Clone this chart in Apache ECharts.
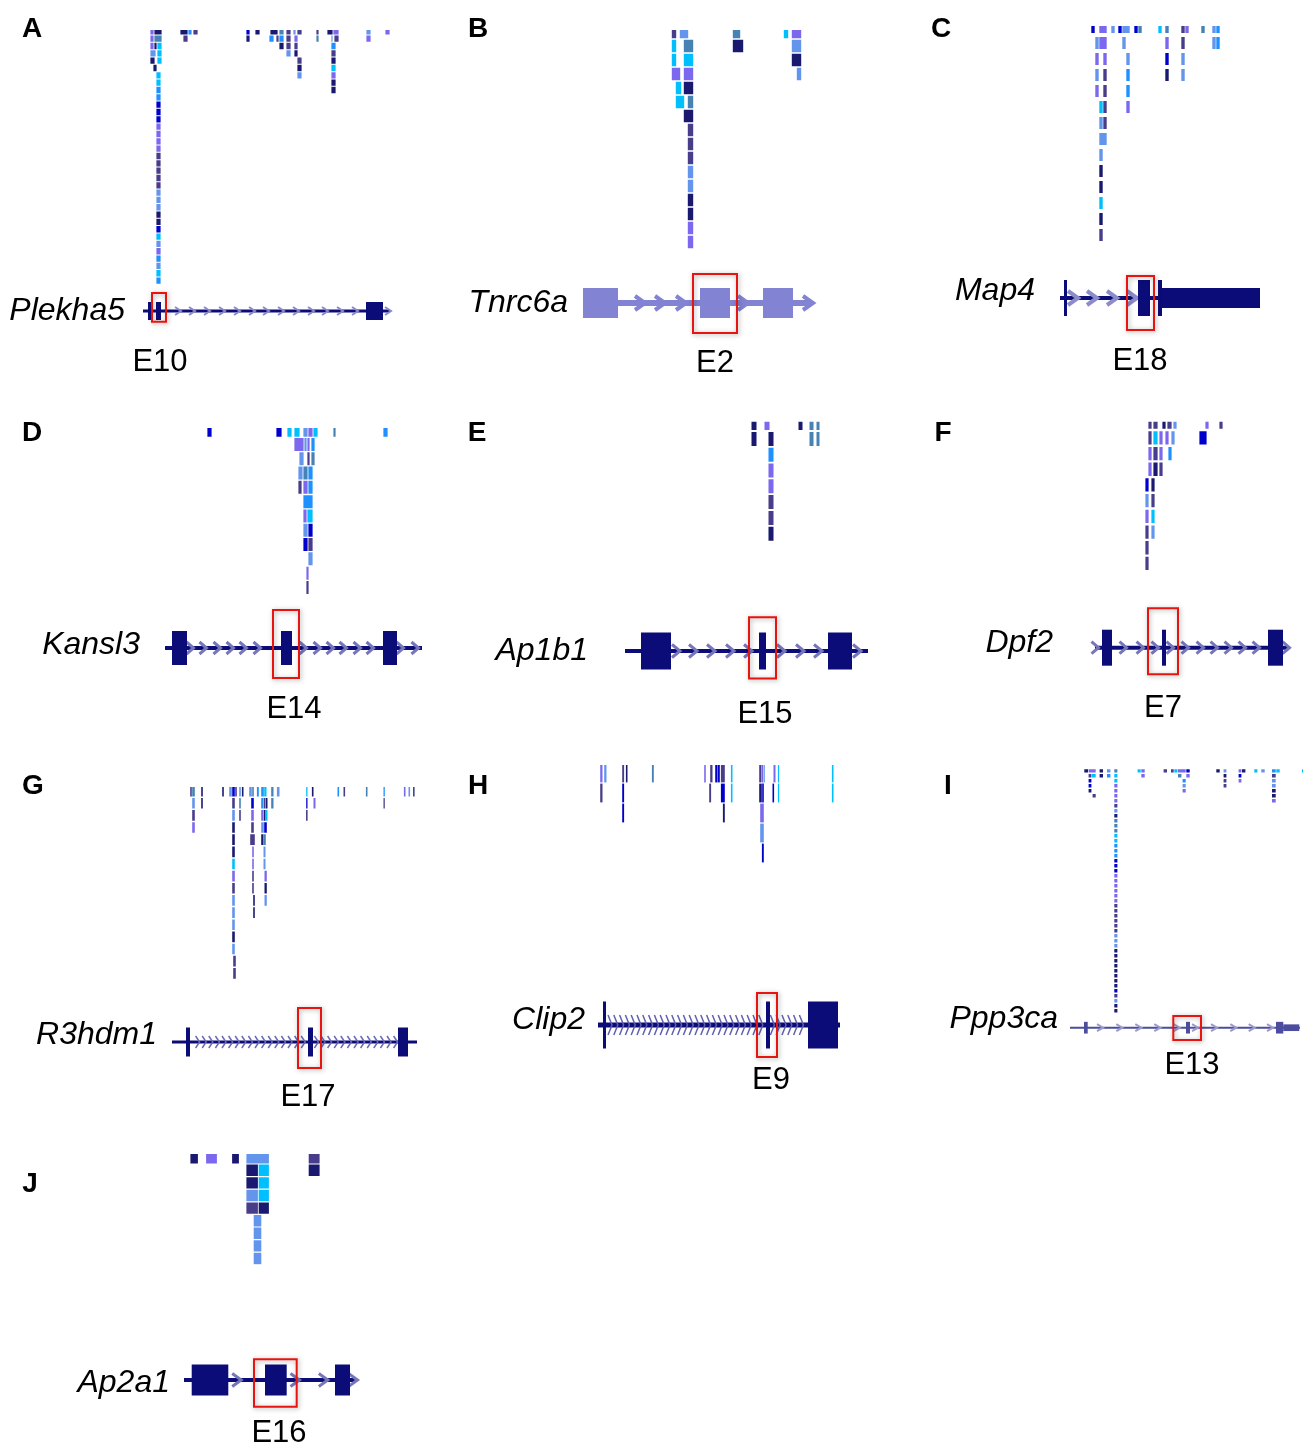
<!DOCTYPE html>
<html><head><meta charset="utf-8">
<script src="https://cdn.jsdelivr.net/npm/echarts@6/dist/echarts.min.js"></script>
<style>html,body{margin:0;padding:0;background:#fff}#c{width:1303px;height:1450px}</style>
</head><body><div id="c"></div>
<script>
// ---------------- DATA ----------------
// read colour codes
const PALETTE = ['#191970','#483D8B','#7B68EE','#6495ED','#00BFFF','#1E90FF','#4682B4','#0000CD'];
const CODES = 'NDMCSGTB';
// stacks of reads: [start, end, firstRow, colour codes of consecutive rows]
const readsA = [
 [10,14,0,'MMM'],[14,22,0,'N'],[14,22,1,'T'],[14,17,2,'N'],[17,22,2,'SSS'],[10,16,3,'C'],[10,15,4,'N'],[13,17,5,'N'],
 [16,21,6,'SSGGBBBMMMMDDDDDCCCNNBSCMGCSG'],
 [40,48,0,'N'],[48,52,0,'G'],[53,58,0,'D'],[43,48,1,'D'],
 [106,110,0,'BN'],[115,120,0,'N'],[130,138,0,'N'],[129,134,1,'G'],[136,139,1,'D'],
 [139,144,0,'TGN'],[146,151,0,'DDDC'],[153,156,0,'C'],[157,162,0,'D'],[154,158,1,'MDN'],[157,162,4,'DNC'],
 [176,179,0,'DT'],[187,193,0,'N'],[193,199,0,'M'],[191,193,1,'C'],[194,199,1,'D'],[191,196,2,'GDNSMNN'],
 [226,231,0,'CM'],[245,250,0,'M']
];
const readsB = [
 [101,107,0,'DSS'],[101,111,3,'M'],[109,119,0,'C'],[113,124,1,'TSMN'],[105,112,4,'S'],[105,115,5,'S'],[117,124,5,'T'],
 [113,124,6,'N'],[117,124,7,'DDDCCNNMM'],
 [162,171,0,'T'],[162,174,1,'N'],[213,219,0,'S'],[221,232,0,'MCN'],[226,232,3,'C']
];
const readsC = [
 [41,45,0,'B'],[49,57,0,'MM'],[61,65,0,'C'],[68,72,0,'B'],[72,80,0,'C'],[84,88,0,'B'],[88,92,0,'T'],[108,112,0,'S'],
 [115,119,0,'TMBN'],[131,135,0,'DDCC'],[135,139,0,'M'],[151,155,0,'T'],[162,166,0,'CC'],[166,170,0,'GG'],
 [45,49,1,'CMCM'],[53,57,2,'MDDDD'],[72,76,1,'C'],[76,80,2,'CGGM'],[49,53,5,'SC'],[49,57,7,'C'],[49,53,8,'CNNSND']
];
const readsD = [
 [47,52,0,'B'],[116,122,0,'B'],[127,132,0,'S'],[134,140,0,'S'],[143,148,0,'C'],[148,153,0,'M'],[153,158,0,'S'],
 [173,176,0,'T'],[223,228,0,'G'],
 [134,144,1,'M'],[144,147,1,'C'],[147,150,1,'M'],[151,155,1,'G'],
 [139,144,2,'C'],[147,150,2,'D'],[151,155,2,'T'],
 [138,143,3,'C'],[143,148,3,'T'],[148,153,3,'G'],
 [138,142,4,'D'],[143,148,4,'M'],[148,153,4,'G'],
 [143,153,5,'G'],[143,147,6,'M'],[147,153,6,'S'],[143,148,7,'CB'],[148,153,7,'BD'],
 [148,153,9,'C'],[146,149,10,'MD']
];
const readsE = [
 [131,137,0,'NN'],[144,150,0,'M'],[148,154,1,'NGMMDDN'],[178,183,0,'N'],[189,194,0,'TT'],[196,200,0,'TT']
];
const readsF = [
 [58,62,0,'DDMM'],[55,59,4,'BCMDDD'],[63,68,0,'DSDN'],[61,65,4,'NDSC'],
 [72,76,0,'N'],[69,73,1,'MMD'],[77,82,0,'D'],[75,79,1,'M'],[78,82,2,'G'],[83,87,0,'C'],[81,85,1,'C'],
 [115,119,0,'M'],[109,117,1,'B'],[129,133,0,'D']
];
const readsG = [
 [25,27,0,'D'],[27,30,0,'TCDM'],[36,38,0,'NN'],[57,59,0,'N'],[64,67,0,'C'],[67,70,0,'B'],[70,72,0,'D'],
 [67,70,1,'DCNNNSMDCCCNC'],[68,71,14,'DD'],
 [74,76,0,'CTD'],[76.7,78.7,0,'N'],
 [84,87,0,'C'],[87,89,0,'T'],[86,89,1,'BMD'],[85,90,4,'D'],[87,89,5,'MMDD'],[88,90,9,'NN'],
 [91.7,94,0,'G'],[96,99,0,'G'],[99,101.7,0,'S'],
 [96,98.7,1,'GM'],[98.7,100.7,1,'DN'],[100.7,102.7,1,'NS'],
 [96,99,3,'C'],[99,102,3,'B'],[96,98.7,4,'N'],[98.7,101,4,'T'],[98.3,100.7,5,'CC'],[99.3,102,7,'MNC'],
 [106,108.7,0,'TT'],[111.7,114.7,0,'C'],
 [141,142.7,0,'SBN'],[146.7,148.7,0,'N'],[148.3,150.7,1,'M'],
 [172.3,174.3,0,'G'],[178.3,180.3,0,'D'],[200.7,202.7,0,'T'],[218.3,220,0,'GD'],
 [238.7,240.7,0,'M'],[243.3,245.3,0,'C'],[248,249.7,0,'N']
];
const readsH = [
 [10,12.7,0,'MD'],[14,16.7,0,'C'],[32,34.3,0,'DBB'],[35.7,37.7,0,'N'],[61.7,64,0,'T'],
 [114,116,0,'M'],[120,122.7,0,'D'],[119,121.3,1,'D'],[125,127.3,0,'B'],[127.3,130,0,'B'],
 [130.7,135,0,'DB'],[132.7,135,2,'N'],[140.7,142.7,0,'SS'],
 [169,171.7,0,'D'],[171.7,173.3,0,'M'],[173.3,175,0,'C'],[169,172,1,'N'],[172,174,1,'B'],
 [170,174,2,'MC'],[171.7,174,4,'B'],
 [183.3,185.7,0,'M'],[182.3,184.3,1,'B'],[187.7,189.3,0,'SS'],[241.7,243.7,0,'SS']
];
const readsI = [
 [44,47.7,0,'TSSMMMMDCNTTTSSGGGBBBMMMMMMDDDDDDCCCNNNNNNNNBDCNN'],
 [14,18.3,0,'N'],[18.3,26,0,'M'],[18.3,21.7,1,'DBBN'],[21.7,26,1,'S'],[22.3,26,5,'D'],
 [29.3,33.3,0,'NN'],[36.7,40.7,0,'CG'],[67.3,71,0,'S'],[71,75,0,'MM'],[93.3,97.3,0,'D'],
 [100.7,104,0,'D'],[104,107.3,0,'S'],[107.3,116,0,'M'],[116,120,0,'BM'],[107.7,111.7,1,'T'],[112.3,116,2,'GCM'],
 [146,150,0,'N'],[153.3,156.7,0,'CNDD'],[168.3,171.7,0,'MBM'],[171.7,175.7,0,'N'],[184,187.7,0,'S'],
 [191,195,0,'C'],[201.7,206,0,'GDCCNNM'],[206,210,0,'S'],[231.7,233,0,'S']
];
const readsJ = [
 [10,18.3,0,'N'],[25.7,37.3,0,'M'],[51.7,59.3,0,'N'],[66,89.3,0,'C'],
 [66,78.3,1,'NNC'],[78.3,89.3,1,'SSS'],[66,78.3,4,'D'],[78.3,89.3,4,'N'],[73.3,81.7,5,'CCCC'],[128.3,140,0,'DN']
];

// gene models: intron [start,end]; exons [start,end,relative height]; highlighted exon box [start,end,top,bottom]
const intronA = [3,250],  exonsA = [[8,12,1],[16,21,1],[226,243,1]],  boxA = [12,26,2,-1.2];
const intronB = [13,242], exonsB = [[13,48,1],[130,160,1],[193,223,1]], boxB = [123,167,1.93,-2];
const intronC = [10,112], exonsC = [[14,17,1],[88,100,1],[108,112,1],[112,210,0.56]], boxC = [77,104,1.22,-1.78];
const intronD = [5,262],  exonsD = [[12,27,1],[121,132,1],[223,237,1]], boxD = [113,139,2.24,-1.76];
const intronE = [5,248],  exonsE = [[21,51,1],[139,146,1],[208,232,1]], boxE = [129,156,1.82,-1.48];
const intronF = [5,198],  exonsF = [[12,22,1],[72,76,1],[178,193,1]],  boxF = [58,88,2.19,-1.48];
const intronG = [7,252],  exonsG = [[21,25,1],[143,148,1],[233,243,1]], boxG = [133,156,2.34,-1.79];
const intronH = [8,250],  exonsH = [[13,16,1],[176,180,1],[218,248,1]], boxH = [167,187,1.36,-1.36];
const intronI = [0,230],  exonsI = [[14,17.7,1],[116,120,1],[206,213.3,1],[213.3,229.3,0.57]], boxI = [103.3,131,2,-2.1];
const intronJ = [4,177],  exonsJ = [[11.7,48.3,1],[85,106.7,1],[155,170,1]], boxJ = [74,116.7,1.34,-1.72];
// strand arrows along introns
const chevA = [38,52,67,82,97,112,126,141,156,171,185,200,215,248];
const chevB = [70,90,111,173,238];
const chevC = [23,42,62,82];
const chevD = [30,43,57,70,83,97,143,157,170,183,197,210,240,255];
const chevE = [56,73,91,110,128,161,180,198,237];
const chevF = [5,33,50,65,80,95,110,124,138,152,166,196];
const chevI = [30,49.3,68.3,87.3,106.7,125,144,163.3,181.7,200];
const chevJ = [56.7,115,143.3,173];

const panelIds = ['A','B','C','D','E','F','G','H','I','J'];
const geneNames = ['Plekha5','Tnrc6a','Map4','Kansl3','Ap1b1','Dpf2','R3hdm1','Clip2','Ppp3ca','Ap2a1'];
const exonNames = ['E10','E2','E18','E14','E15','E7','E17','E9','E13','E16'];

// ---------------- LAYOUT / STYLE ----------------
const NAVY = '#0c0c78';
const L = [
 {reads:readsA,intron:intronA,exons:exonsA,box:boxA,chev:chevA,left:140,width:260,rowTop:27.7,pitch:7.33,clipTop:30,rows:35,gapY:1,gapX:0.4,geneY:311,exonH:18,intronW:3,gc:NAVY,cc:'#8a8ac8',cw:6,ch:8,clw:2,letter:[32,29],name:[125,311],ex:[160,362]},
 {reads:readsB,intron:intronB,exons:exonsB,box:boxB,chev:chevB,left:570,width:250,rowTop:25,pitch:14,clipTop:30,rows:16,gapY:1.5,gapX:0.8,geneY:303,exonH:30,intronW:6,gc:'#8383d3',cc:'#8383d3',cw:10,ch:14,clw:4,letter:[478,29],name:[568,303],ex:[715,363]},
 {reads:readsC,intron:intronC,exons:exonsC,box:boxC,chev:chevC,left:1050,width:220,rowTop:19,pitch:16,clipTop:26,rows:14,gapY:4,gapX:0.3,geneY:298,exonH:36,intronW:4,gc:NAVY,cc:'#8c8cc8',cw:10,ch:14,clw:4,letter:[941,29],name:[1035,291],ex:[1140,361]},
 {reads:readsD,intron:intronD,exons:exonsD,box:boxD,chev:chevD,left:160,width:270,rowTop:423,pitch:14.3,clipTop:428,rows:12,gapY:1.3,gapX:0.4,geneY:648,exonH:34,intronW:4,gc:NAVY,cc:'#7676ba',cw:7,ch:12,clw:3,letter:[32,433],name:[140,645],ex:[294,709]},
 {reads:readsE,intron:intronE,exons:exonsE,box:boxE,chev:chevE,left:620,width:260,rowTop:415.2,pitch:15.8,clipTop:421.7,rows:8,gapY:1.8,gapX:0.5,geneY:651,exonH:37,intronW:4,gc:NAVY,cc:'#7676ba',cw:8,ch:13,clw:3,letter:[477,433],name:[588,651],ex:[765,714]},
 {reads:readsF,intron:intronF,exons:exonsF,box:boxF,chev:chevF,left:1090,width:210,rowTop:414.3,pitch:15.7,clipTop:421.7,rows:10,gapY:2.4,gapX:0.4,geneY:647.7,exonH:36,intronW:4,gc:NAVY,cc:'#7676ba',cw:7,ch:12,clw:3,letter:[943,433],name:[1053,643],ex:[1163,708]},
 {reads:readsG,intron:intronG,exons:exonsG,box:boxG,chev:null,chevRange:[26,232,6.6],left:165,width:260,rowTop:785,pitch:12.15,clipTop:787,rows:16,gapY:1.5,gapX:0.2,geneY:1042,exonH:29,intronW:3,gc:NAVY,cc:'#6a6ab5',cw:4,ch:12,clw:1.5,letter:[33,786],name:[157,1035],ex:[308,1097]},
 {reads:readsH,intron:intronH,exons:exonsH,box:boxH,chev:null,chevRange:[20,216,5.8],left:590,width:260,rowTop:763,pitch:20,clipTop:765,rows:5,gapY:1.2,gapX:0.2,geneY:1025,exonH:47,intronW:5,gc:NAVY,cc:'#6060b0',cw:4,ch:20,clw:1.5,letter:[478,786],name:[585,1020],ex:[771,1080]},
 {reads:readsI,intron:intronI,exons:exonsI,box:boxI,chev:chevI,left:1070,width:233,rowTop:768.3,pitch:5,clipTop:769.3,rows:49,gapY:1.6,gapX:0.3,geneY:1027.7,exonH:11.7,intronW:2,gc:'#4d4d9f',cc:'#9a9acc',cw:6,ch:7,clw:2,letter:[948,786],name:[1058,1019],ex:[1192,1065]},
 {reads:readsJ,intron:intronJ,exons:exonsJ,box:boxJ,chev:chevJ,left:180,width:190,rowTop:1151.4,pitch:12.6,clipTop:1154,rows:9,gapY:1.2,gapX:0.4,geneY:1380,exonH:31,intronW:4,gc:NAVY,cc:'#7676ba',cw:9,ch:13,clw:3,letter:[30,1184],name:[170,1383],ex:[279,1433]}
];

// ---------------- BUILD ----------------
function expand(stacks){
  const out=[];
  stacks.forEach(([x0,x1,r,codes])=>{
    for(let i=0;i<codes.length;i++){ const c=codes[i]; if(c==='.') continue; out.push([x0,x1,r+i,CODES.indexOf(c)]); }
  });
  return out;
}
function chevPositions(p){
  if(p.chev) return p.chev;
  const [a,b,s]=p.chevRange, out=[];
  for(let x=a;x<=b;x+=s){ if(!p.exons.some(e=>x>e[0]-2&&x<e[1]+2)) out.push(x); }
  return out;
}
const grid=[],xAxis=[],yAxis=[],series=[],graphic=[];
L.forEach((p,i)=>{
  const gr=2*i, gg=2*i+1;
  const bottom=p.rowTop+p.rows*p.pitch;
  grid.push({left:p.left,top:p.clipTop,width:p.width,height:bottom-p.clipTop});
  grid.push({left:p.left,top:p.geneY-p.exonH/2,width:p.width,height:p.exonH});
  xAxis.push({type:'value',gridIndex:gr,min:0,max:p.width,show:false});
  xAxis.push({type:'value',gridIndex:gg,min:0,max:p.width,show:false});
  yAxis.push({type:'value',gridIndex:gr,min:(p.clipTop-p.rowTop)/p.pitch,max:p.rows,inverse:true,show:false});
  yAxis.push({type:'value',gridIndex:gg,min:-1,max:1,show:false});
  // reads
  series.push({type:'custom',xAxisIndex:gr,yAxisIndex:gr,clip:true,silent:true,data:expand(p.reads),
    renderItem:(params,api)=>{
      const a=api.coord([api.value(0),api.value(2)]), b=api.coord([api.value(1),api.value(2)+1]);
      return {type:'rect',shape:{x:a[0]+p.gapX,y:a[1]+p.gapY/2,width:Math.max(1,b[0]-a[0]-2*p.gapX),height:b[1]-a[1]-p.gapY},
        style:{fill:PALETTE[api.value(3)]}};
    }});
  // intron line
  series.push({type:'custom',xAxisIndex:gg,yAxisIndex:gg,silent:true,data:[p.intron],
    renderItem:(params,api)=>{
      const a=api.coord([api.value(0),0]), b=api.coord([api.value(1),0]);
      return {type:'line',shape:{x1:a[0],y1:a[1],x2:b[0],y2:b[1]},style:{stroke:p.gc,lineWidth:p.intronW}};
    }});
  // strand chevrons
  series.push({type:'custom',xAxisIndex:gg,yAxisIndex:gg,silent:true,data:chevPositions(p).map(x=>[x]),
    renderItem:(params,api)=>{
      const c=api.coord([api.value(0),0]);
      return {type:'polyline',shape:{points:[[c[0]-p.cw/2,c[1]-p.ch/2],[c[0]+p.cw/2,c[1]],[c[0]-p.cw/2,c[1]+p.ch/2]]},
        style:{stroke:p.cc,lineWidth:p.clw,fill:null,lineJoin:'miter'}};
    }});
  // exons
  series.push({type:'custom',xAxisIndex:gg,yAxisIndex:gg,silent:true,data:p.exons,
    renderItem:(params,api)=>{
      const h=api.value(2), a=api.coord([api.value(0),h]), b=api.coord([api.value(1),-h]);
      return {type:'rect',shape:{x:a[0],y:a[1],width:b[0]-a[0],height:b[1]-a[1]},style:{fill:p.gc}};
    }});
  // highlighted exon box
  series.push({type:'custom',xAxisIndex:gg,yAxisIndex:gg,silent:true,data:[p.box],
    renderItem:(params,api)=>{
      const a=api.coord([api.value(0),api.value(2)]), b=api.coord([api.value(1),api.value(3)]);
      return {type:'rect',shape:{x:a[0],y:a[1],width:b[0]-a[0],height:b[1]-a[1]},
        style:{fill:null,stroke:'#e8140f',lineWidth:2,shadowBlur:5,shadowColor:'rgba(0,0,0,0.35)',shadowOffsetX:1,shadowOffsetY:1}};
    }});
  // texts
  graphic.push({type:'text',x:p.letter[0],y:p.letter[1],style:{text:panelIds[i],font:'bold 28px "Liberation Sans", Arial, sans-serif',fill:'#000',textAlign:'center',textVerticalAlign:'middle'}});
  graphic.push({type:'text',x:p.name[0],y:p.name[1],style:{text:geneNames[i],font:'italic 32px "Liberation Sans", Arial, sans-serif',fill:'#000',textAlign:'right',textVerticalAlign:'middle'}});
  graphic.push({type:'text',x:p.ex[0],y:p.ex[1],style:{text:exonNames[i],font:'31px "Liberation Sans", Arial, sans-serif',fill:'#000',textAlign:'center',textVerticalAlign:'middle'}});
});

const chart=echarts.init(document.getElementById('c'),null,{renderer:'canvas'});
chart.setOption({animation:false,backgroundColor:'#fff',grid,xAxis,yAxis,series,graphic});
</script></body></html>
